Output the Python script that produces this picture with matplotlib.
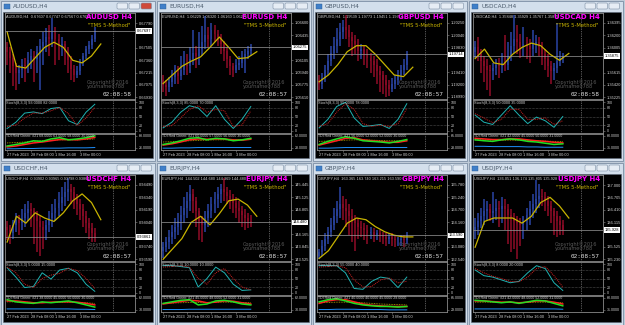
"""Eight MT4 H4 chart windows (TMS 5-Method template) tiled 4 x 2."""

import matplotlib
matplotlib.use("Agg")
import matplotlib.pyplot as plt
from matplotlib.patches import Rectangle, FancyBboxPatch
import numpy as np

W, H = 625, 325

# ---------------------------------------------------------------------------
# Data (candles / MA are read as % of the visible price window)
# ---------------------------------------------------------------------------
PAIRS = ["AUDUSD", "EURUSD", "GBPUSD", "USDCAD",
         "USDCHF", "EURJPY", "GBPJPY", "USDJPY"]
TIMERS = ["02:08:58", "02:08:57", "02:08:57", "02:08:58",
          "02:08:57", "02:08:57", "02:08:57", "02:08:57"]
DIGITS = [5, 5, 5, 5, 5, 3, 3, 3]
PRICE_WINDOW = [(0.66907, 0.67907), (1.05587, 1.06733), (1.18955, 1.20415),
                (1.35198, 1.36552), (0.93569, 0.94611), (143.480, 145.702),
                (162.465, 166.215), (135.190, 137.239)]
PRICE_TICKS = [
    [0.66930, 0.67075, 0.67215, 0.67360, 0.67505, 0.67645, 0.67790],
    [1.05610, 1.05775, 1.05940, 1.06105, 1.06270, 1.06435, 1.06600],
    [1.18990, 1.19200, 1.19410, 1.19620, 1.19830, 1.20040, 1.20250],
    [1.35225, 1.35420, 1.35615, 1.35810, 1.36005, 1.36200, 1.36395],
    [0.93590, 0.93740, 0.93890, 0.94040, 0.94190, 0.94340, 0.94490],
    [143.525, 143.845, 144.165, 144.485, 144.805, 145.125, 145.445],
    [162.540, 163.080, 163.620, 164.160, 164.700, 165.240, 165.780],
    [135.230, 135.525, 135.820, 136.115, 136.410, 136.705, 137.000],
]
DATE_LABELS = ["27 Feb 2023", "28 Feb 08:00", "1 Mar 16:00", "3 Mar 00:00"]
DATE_BARS = [0, 8, 16, 24]
VLINE_BAR = 35

# open of first bar followed by the close of every bar
AUDUSD_LEVELS = [60, 55, 48, 38, 30, 34, 40, 38, 45, 50, 47, 55, 62, 66, 72, 70,
                 78, 70, 62, 64, 55, 45, 35, 28, 33, 42, 50, 58, 63, 70, 79]
AUDUSD_HIGH = [66, 60, 52, 42, 40, 46, 48, 55, 58, 56, 62, 70, 78, 82, 86, 94,
               84, 76, 72, 68, 60, 50, 40, 38, 46, 54, 62, 68, 74, 84]
AUDUSD_LOW = [40, 30, 15, 10, 18, 25, 20, 30, 35, 20, 30, 10, 40, 55, 50, 60,
              40, 45, 50, 40, 30, 22, 20, 24, 28, 38, 46, 52, 58, 66]
AUDUSD_MA = [78, 38, 36, 48, 60, 66, 60, 45, 42, 50, 64]

EURUSD_LEVELS = [22, 16, 14, 20, 26, 30, 27, 34, 40, 38, 46, 54, 50, 58, 66, 74,
                 70, 80, 76, 72, 64, 56, 46, 38, 34, 40, 42, 48, 52, 56, 60]
EURUSD_HIGH = [28, 22, 26, 34, 40, 38, 50, 56, 52, 60, 80, 62, 78, 85, 96, 84,
               88, 86, 80, 76, 68, 60, 50, 42, 46, 50, 56, 58, 62, 64]
EURUSD_LOW = [8, 4, 8, 14, 18, 18, 22, 28, 28, 30, 40, 36, 40, 50, 58, 60,
              62, 66, 62, 52, 44, 36, 28, 26, 30, 34, 36, 30, 46, 50]
EURUSD_MA = [18, 28, 38, 44, 49, 60, 72, 60, 47, 48, 55]

GBPUSD_LEVELS = [22, 18, 24, 34, 44, 54, 62, 70, 78, 84, 80, 72, 68, 64, 56, 58,
                 52, 48, 44, 40, 32, 28, 22, 16, 12, 18, 22, 28, 34, 40, 52]
GBPUSD_HIGH = [28, 30, 40, 52, 62, 72, 82, 88, 92, 98, 86, 78, 74, 70, 64, 62,
               58, 54, 50, 46, 38, 32, 28, 22, 24, 28, 34, 40, 46, 56]
GBPUSD_LOW = [10, 12, 20, 28, 38, 46, 54, 62, 70, 70, 60, 50, 52, 44, 46, 40,
              36, 30, 26, 18, 8, 6, 2, 4, 8, 12, 16, 22, 28, 34]
GBPUSD_MA = [20, 28, 40, 55, 62, 62, 52, 40, 28, 26, 37]

USDCAD_LEVELS = [55, 60, 52, 44, 38, 34, 32, 36, 40, 38, 42, 40, 50, 62, 70, 66,
                 60, 64, 62, 58, 64, 66, 60, 52, 46, 38, 32, 36, 44, 48, 50]
USDCAD_HIGH = [68, 72, 58, 50, 46, 40, 42, 46, 48, 54, 74, 66, 78, 98, 86, 76,
               84, 72, 70, 80, 74, 72, 66, 58, 52, 44, 42, 88, 56, 54]
USDCAD_LOW = [48, 44, 30, 20, 10, 4, 22, 28, 24, 30, 32, 34, 44, 54, 52, 48,
              50, 46, 42, 50, 54, 50, 40, 34, 26, 18, 22, 30, 38, 42]
USDCAD_MA = [47, 58, 42, 40, 52, 60, 65, 62, 52, 45, 53]

USDCHF_LEVELS = [40, 36, 32, 42, 48, 44, 50, 56, 60, 58, 54, 46, 40, 36, 42, 50,
                 56, 62, 68, 74, 80, 84, 80, 72, 66, 60, 52, 44, 38, 32, 28]
USDCHF_HIGH = [46, 42, 48, 56, 54, 60, 66, 70, 68, 62, 58, 52, 46, 48, 58, 66,
               72, 80, 86, 92, 96, 90, 86, 78, 72, 66, 58, 50, 44, 38]
USDCHF_LOW = [24, 20, 26, 34, 30, 36, 40, 46, 40, 20, 10, 6, 14, 24, 34, 40,
              46, 52, 58, 64, 70, 66, 60, 54, 48, 40, 32, 26, 22, 22]
USDCHF_MA = [22, 52, 44, 56, 50, 46, 56, 70, 78, 68, 48]

EURJPY_LEVELS = [12, 16, 22, 28, 34, 40, 46, 54, 62, 70, 78, 70, 58, 46, 42, 50,
                 58, 66, 72, 78, 84, 80, 76, 72, 68, 62, 58, 54, 50, 46, 45]
EURJPY_HIGH = [22, 28, 36, 42, 50, 56, 64, 74, 80, 88, 84, 74, 62, 52, 58, 66,
               74, 80, 86, 90, 96, 86, 82, 78, 74, 70, 64, 60, 56, 54]
EURJPY_LOW = [4, 10, 14, 20, 26, 30, 36, 44, 50, 58, 56, 40, 24, 22, 34, 40,
              50, 56, 62, 68, 70, 66, 60, 56, 50, 44, 40, 36, 38, 40]
EURJPY_MA = [2, 14, 26, 45, 52, 42, 55, 70, 72, 65, 52]

GBPJPY_LEVELS = [6, 10, 18, 26, 34, 42, 52, 60, 66, 62, 58, 52, 48, 44, 40, 38,
                 36, 32, 34, 30, 32, 30, 28, 26, 28, 26, 24, 24, 26, 24, 30]
GBPJPY_HIGH = [14, 24, 32, 40, 50, 62, 70, 86, 76, 72, 66, 60, 54, 50, 46, 44,
               42, 40, 38, 36, 36, 34, 32, 32, 32, 30, 28, 30, 30, 34]
GBPJPY_LOW = [2, 6, 12, 20, 28, 36, 44, 50, 48, 40, 30, 22, 12, 26, 28, 24,
              20, 26, 22, 24, 22, 20, 18, 20, 18, 16, 18, 18, 16, 20]
GBPJPY_MA = [3, 12, 28, 44, 50, 48, 40, 34, 30, 28, 28]

USDJPY_LEVELS = [36, 40, 46, 52, 58, 60, 56, 58, 62, 60, 64, 60, 54, 50, 46, 44,
                 42, 46, 54, 60, 66, 72, 76, 74, 70, 64, 58, 52, 46, 42, 36]
USDJPY_HIGH = [50, 56, 62, 72, 70, 66, 80, 72, 70, 74, 72, 66, 60, 56, 52, 50,
               52, 62, 70, 78, 94, 90, 84, 80, 76, 70, 62, 58, 52, 48]
USDJPY_LOW = [26, 30, 38, 42, 48, 46, 44, 48, 40, 44, 36, 20, 10, 14, 2, 18,
              26, 36, 42, 50, 56, 62, 64, 58, 52, 44, 30, 28, 30, 30]
USDJPY_MA = [16, 46, 50, 50, 50, 44, 52, 68, 74, 64, 50]

# Stochastic(8,3,3): main / signal
AUDUSD_STO = [8, 30, 62, 66, 60, 78, 82, 35, 22, 65, 93]
AUDUSD_SIG = [15, 20, 45, 62, 62, 70, 82, 60, 18, 45, 82]
EURUSD_STO = [10, 30, 65, 88, 80, 50, 88, 40, 8, 40, 85]
EURUSD_SIG = [15, 18, 45, 75, 88, 65, 75, 70, 15, 20, 70]
GBPUSD_STO = [10, 40, 85, 100, 45, 15, 18, 22, 8, 40, 95]
GBPUSD_SIG = [15, 25, 65, 95, 75, 25, 15, 20, 15, 25, 78]
USDCAD_STO = [55, 30, 22, 55, 88, 55, 25, 48, 35, 12, 50]
USDCAD_SIG = [60, 45, 28, 40, 75, 75, 40, 40, 45, 22, 35]
USDCHF_STO = [88, 55, 18, 22, 70, 48, 80, 86, 70, 30, 5]
USDCHF_SIG = [90, 70, 30, 18, 50, 62, 68, 86, 78, 50, 15]
EURJPY_STO = [95, 95, 92, 88, 20, 50, 90, 70, 30, 8, 10]
EURJPY_SIG = [90, 92, 95, 90, 50, 30, 70, 85, 50, 20, 10]
GBPJPY_STO = [95, 95, 95, 70, 15, 12, 40, 55, 50, 18, 55]
GBPJPY_SIG = [90, 92, 95, 88, 45, 20, 22, 45, 52, 35, 40]
USDJPY_STO = [80, 60, 55, 45, 35, 40, 70, 95, 85, 35, 8]
USDJPY_SIG = [85, 70, 58, 50, 40, 38, 55, 85, 92, 60, 20]

# TDI: green (RSI), red (signal), yellow (base), blue (lower band)
AUDUSD_TDI_G = [35, 40, 45, 52, 50, 58, 62, 55, 58, 62, 68]
AUDUSD_TDI_R = [32, 35, 40, 45, 48, 52, 56, 56, 55, 58, 63]
AUDUSD_TDI_Y = [45, 46, 48, 50, 52, 54, 55, 55, 55, 56, 58]
AUDUSD_TDI_B = [26, 26, 27, 27, 28, 28, 28, 29, 29, 29, 30]
EURUSD_TDI_G = [40, 45, 52, 60, 62, 55, 60, 58, 52, 55, 60]
EURUSD_TDI_R = [38, 42, 48, 55, 58, 57, 58, 58, 55, 54, 57]
EURUSD_TDI_Y = [48, 49, 50, 52, 53, 54, 55, 55, 55, 55, 56]
EURUSD_TDI_B = [28, 28, 29, 29, 30, 30, 30, 30, 30, 30, 30]
GBPUSD_TDI_G = [40, 50, 58, 65, 60, 52, 50, 48, 45, 50, 56]
GBPUSD_TDI_R = [38, 45, 52, 60, 62, 55, 52, 50, 47, 47, 52]
GBPUSD_TDI_Y = [50, 51, 52, 54, 55, 55, 54, 53, 52, 52, 52]
GBPUSD_TDI_B = [28, 28, 29, 30, 30, 30, 30, 30, 30, 30, 30]
USDCAD_TDI_G = [55, 52, 50, 55, 58, 55, 50, 48, 44, 40, 42]
USDCAD_TDI_R = [60, 58, 56, 56, 58, 58, 55, 52, 50, 47, 45]
USDCAD_TDI_Y = [55, 55, 54, 54, 54, 54, 53, 52, 51, 50, 50]
USDCAD_TDI_B = [34, 34, 33, 33, 33, 33, 32, 32, 31, 31, 31]
USDCHF_TDI_G = [62, 55, 52, 50, 55, 52, 55, 58, 52, 45, 38]
USDCHF_TDI_R = [58, 58, 55, 52, 52, 54, 55, 55, 54, 50, 45]
USDCHF_TDI_Y = [55, 55, 54, 53, 53, 53, 54, 54, 53, 52, 50]
USDCHF_TDI_B = [32, 32, 32, 32, 32, 32, 32, 32, 31, 31, 30]
EURJPY_TDI_G = [50, 55, 60, 62, 45, 48, 58, 60, 55, 48, 45]
EURJPY_TDI_R = [48, 52, 56, 60, 58, 52, 54, 58, 57, 52, 48]
EURJPY_TDI_Y = [50, 51, 52, 53, 53, 53, 54, 54, 54, 53, 52]
EURJPY_TDI_B = [30, 30, 30, 31, 31, 31, 31, 31, 31, 31, 31]
GBPJPY_TDI_G = [55, 62, 65, 58, 50, 45, 42, 40, 40, 38, 40]
GBPJPY_TDI_R = [50, 58, 62, 62, 55, 48, 44, 42, 40, 40, 40]
GBPJPY_TDI_Y = [52, 53, 54, 54, 53, 52, 50, 48, 47, 46, 45]
GBPJPY_TDI_B = [30, 30, 31, 31, 31, 30, 30, 30, 29, 29, 29]
USDJPY_TDI_G = [60, 58, 55, 52, 55, 50, 55, 60, 58, 50, 42]
USDJPY_TDI_R = [58, 58, 56, 54, 54, 52, 54, 58, 58, 54, 48]
USDJPY_TDI_Y = [54, 54, 54, 53, 53, 53, 53, 54, 54, 53, 52]
USDJPY_TDI_B = [32, 32, 32, 32, 32, 32, 32, 32, 32, 32, 31]

CANDLES = {
    "AUDUSD": (AUDUSD_LEVELS, AUDUSD_HIGH, AUDUSD_LOW, AUDUSD_MA),
    "EURUSD": (EURUSD_LEVELS, EURUSD_HIGH, EURUSD_LOW, EURUSD_MA),
    "GBPUSD": (GBPUSD_LEVELS, GBPUSD_HIGH, GBPUSD_LOW, GBPUSD_MA),
    "USDCAD": (USDCAD_LEVELS, USDCAD_HIGH, USDCAD_LOW, USDCAD_MA),
    "USDCHF": (USDCHF_LEVELS, USDCHF_HIGH, USDCHF_LOW, USDCHF_MA),
    "EURJPY": (EURJPY_LEVELS, EURJPY_HIGH, EURJPY_LOW, EURJPY_MA),
    "GBPJPY": (GBPJPY_LEVELS, GBPJPY_HIGH, GBPJPY_LOW, GBPJPY_MA),
    "USDJPY": (USDJPY_LEVELS, USDJPY_HIGH, USDJPY_LOW, USDJPY_MA),
}
STOCH = {
    "AUDUSD": (AUDUSD_STO, AUDUSD_SIG), "EURUSD": (EURUSD_STO, EURUSD_SIG),
    "GBPUSD": (GBPUSD_STO, GBPUSD_SIG), "USDCAD": (USDCAD_STO, USDCAD_SIG),
    "USDCHF": (USDCHF_STO, USDCHF_SIG), "EURJPY": (EURJPY_STO, EURJPY_SIG),
    "GBPJPY": (GBPJPY_STO, GBPJPY_SIG), "USDJPY": (USDJPY_STO, USDJPY_SIG),
}
TDI = {
    "AUDUSD": (AUDUSD_TDI_G, AUDUSD_TDI_R, AUDUSD_TDI_Y, AUDUSD_TDI_B),
    "EURUSD": (EURUSD_TDI_G, EURUSD_TDI_R, EURUSD_TDI_Y, EURUSD_TDI_B),
    "GBPUSD": (GBPUSD_TDI_G, GBPUSD_TDI_R, GBPUSD_TDI_Y, GBPUSD_TDI_B),
    "USDCAD": (USDCAD_TDI_G, USDCAD_TDI_R, USDCAD_TDI_Y, USDCAD_TDI_B),
    "USDCHF": (USDCHF_TDI_G, USDCHF_TDI_R, USDCHF_TDI_Y, USDCHF_TDI_B),
    "EURJPY": (EURJPY_TDI_G, EURJPY_TDI_R, EURJPY_TDI_Y, EURJPY_TDI_B),
    "GBPJPY": (GBPJPY_TDI_G, GBPJPY_TDI_R, GBPJPY_TDI_Y, GBPJPY_TDI_B),
    "USDJPY": (USDJPY_TDI_G, USDJPY_TDI_R, USDJPY_TDI_Y, USDJPY_TDI_B),
}

# ---------------------------------------------------------------------------
# Layout / style
# ---------------------------------------------------------------------------
WIN_LEFT = [0, 156, 312, 468]
WIN_TOP = [0, 162]
WIN_HEIGHT = [161, 163]
WIN_W = 155
XLIM = (-0.7, 42.3)

BULL, BULL_DARK = "#4a6ff0", "#243a8c"
BEAR, BEAR_DARK = "#e0143c", "#7a0a22"
MA_COLOR = "#c8b400"
SPINE = "#8a8a8a"
LABEL = "#d2d2d2"
NARROW = "Liberation Sans"


def px_axes(fig, x, y, w, h):
    return fig.add_axes([x / W, 1 - (y + h) / H, w / W, h / H])


def style(ax, labelsize=2.9):
    ax.set_facecolor("black")
    for s in ax.spines.values():
        s.set_color(SPINE)
        s.set_linewidth(0.6)
    ax.yaxis.tick_right()
    ax.tick_params(axis="y", labelsize=labelsize, colors=SPINE, labelcolor=LABEL,
                   length=1.5, width=0.4, pad=1)
    ax.tick_params(axis="x", bottom=False, labelbottom=False)
    for t in ax.get_yticklabels():
        t.set_family(NARROW)
    ax.set_xlim(*XLIM)
    ax.axvline(VLINE_BAR, color="#a8a8a8", lw=0.5, ls=(0, (1, 1.5)))


def draw_window(fig, bg, idx, pair):
    col, row = idx % 4, idx // 4
    x0, y0, wh = WIN_LEFT[col], WIN_TOP[row], WIN_HEIGHT[row]
    digits = DIGITS[idx]
    lo, hi = PRICE_WINDOW[idx]

    def price(v):
        return lo + np.asarray(v, dtype=float) / 100.0 * (hi - lo)

    # window frame, title bar, buttons
    bg.add_patch(Rectangle((x0 + 0.5, y0 + 0.5), WIN_W - 1, wh - 1,
                           fc="#d3dfec", ec="#7c8ea4", lw=0.6))
    bg.add_patch(Rectangle((x0 + 4, y0 + 3.5), 6, 5, fc="#3f7fc9", ec="#2a5a90", lw=0.3))
    bg.text(x0 + 13, y0 + 6.5, f"{pair},H4", fontsize=4.2, va="center", color="#4a5a6c")
    for k, bx in enumerate([117, 129, 141]):
        fc = "#cf4a3a" if (k == 2 and idx == 0) else "#e6edf5"
        bg.add_patch(FancyBboxPatch((x0 + bx, y0 + 3), 10.5, 6,
                                    boxstyle="round,pad=0,rounding_size=1.2",
                                    fc=fc, ec="#7c8ea4", lw=0.4))
    bg.add_patch(Rectangle((x0 + 3, y0 + 12), 150, wh - 15, fc="black", ec="#5a6675", lw=0.4))

    levels, highs, lows, ma = CANDLES[pair]
    n = len(highs)
    bars = np.arange(n)
    opens = price(levels[:-1])
    closes = price(levels[1:])
    hs, ls = price(highs), price(lows)

    # --- price panel
    ax = px_axes(fig, x0 + 5, y0 + 13, 130, 86)
    bull = closes >= opens
    ax.vlines(bars[bull], ls[bull], hs[bull], color=BULL_DARK, lw=1.3)
    ax.vlines(bars[~bull], ls[~bull], hs[~bull], color=BEAR_DARK, lw=1.3)
    ax.bar(bars[bull], (closes - opens)[bull], bottom=opens[bull], width=0.65,
           color=BULL, lw=0)
    ax.bar(bars[~bull], (closes - opens)[~bull], bottom=opens[~bull], width=0.65,
           color=BEAR, lw=0)
    ax.plot(np.linspace(0, n + 1, len(ma)), price(ma), color=MA_COLOR, lw=0.9)
    ax.set_ylim(lo, hi)
    last = closes[-1]
    step = PRICE_TICKS[idx][1] - PRICE_TICKS[idx][0]
    # MT4 hides the scale label that sits under the current-price box
    ticks = [t for t in PRICE_TICKS[idx] if abs(t - last) > 0.55 * step]
    ax.set_yticks(ticks)
    ax.set_yticklabels([f"{t:.{digits}f}" for t in ticks])
    style(ax)
    ax.axhline(last, color="#9a9a9a", lw=0.5)
    ax.annotate(f"{last:.{digits}f}", xy=(1.0, last), xycoords=ax.get_yaxis_transform(),
                xytext=(1.2, 0), textcoords="offset points", fontsize=2.9, va="center",
                ha="left", color="black", family=NARROW,
                bbox=dict(boxstyle="square,pad=0.15", fc="white", ec="white", lw=0))
    ax.text(0.01, 0.985, f"{pair},H4  {opens[-1]:.{digits}f} {hs[-1]:.{digits}f} "
            f"{ls[-1]:.{digits}f} {last:.{digits}f}",
            transform=ax.transAxes, fontsize=2.8, color=LABEL, va="top", family=NARROW)
    ax.text(0.975, 0.955, f"{pair} H4", transform=ax.transAxes, fontsize=5,
            color="#ff00ff", fontweight="bold", ha="right", va="center")
    ax.text(0.965, 0.86, '"TMS 5-Method"', transform=ax.transAxes, fontsize=3.8,
            color=MA_COLOR, ha="right", va="center")
    ax.text(0.63, 0.17, "Copyright\u00a92016\nyourname0788", transform=ax.transAxes,
            fontsize=3.6, color="#5a5a5a", ha="left", va="center", linespacing=0.9)
    ax.text(0.975, 0.055, TIMERS[idx], transform=ax.transAxes, fontsize=4.3,
            color="#e0e0e0", ha="right", va="center", family="DejaVu Sans Mono")

    # --- stochastic
    main, sig = STOCH[pair]
    sx = np.linspace(0, n - 1, len(main))
    ax2 = px_axes(fig, x0 + 5, y0 + 100, 130, 33)
    for lvl in (20, 50, 80):
        ax2.axhline(lvl, color="#8a8a8a", lw=0.4, ls=(0, (1, 1.5)))
    ax2.plot(sx, main, color="#1fb3b3", lw=0.7)
    ax2.plot(sx, sig, color="#d02020", lw=0.7, ls=(0, (1, 1)))
    ax2.set_ylim(-8, 108)
    ax2.set_yticks([0, 20, 50, 80, 100])
    style(ax2, labelsize=2.6)
    ax2.text(0.01, 0.97, f"Stoch(8,3,3) {main[-1]:.4f} {sig[-1]:.4f}",
             transform=ax2.transAxes, fontsize=2.8, color=LABEL, va="top", family=NARROW)

    # --- TDI
    g, r, y, b = TDI[pair]
    ax3 = px_axes(fig, x0 + 5, y0 + 134, 130, 16)
    ax3.plot(sx, b, color="#1e90ff", lw=0.7)
    ax3.plot(sx, y, color="#c8b400", lw=0.6, ls=(0, (1, 1)))
    ax3.plot(sx, r, color="#ff2020", lw=1.1)
    ax3.plot(sx, g, color="#22e022", lw=1.1)
    ax3.set_ylim(22, 74)
    ax3.set_yticks([29, 68])
    ax3.set_yticklabels([f"{min(b):.4f}", f"{max(max(g), max(r)):.4f}"])
    style(ax3, labelsize=2.6)
    ax3.text(0.01, 0.97, f"TDI Red Green: #21 {g[-1]:.4f} {r[-1]:.4f} {y[-1]:.4f} {b[-1]:.4f}",
             transform=ax3.transAxes, fontsize=2.6, color=LABEL, va="top", family=NARROW)
    ax3.set_xticks(DATE_BARS)
    ax3.set_xticklabels(DATE_LABELS)
    ax3.tick_params(axis="x", bottom=True, labelbottom=True, labelsize=2.8,
                    colors=SPINE, labelcolor=LABEL, length=1.5, width=0.4, pad=1)
    for t in ax3.get_xticklabels():
        t.set_ha("left")
        t.set_family(NARROW)


def main() -> None:
    fig = plt.figure(figsize=(W / 100, H / 100), dpi=100, facecolor="#bfcbd8")
    bg = fig.add_axes([0, 0, 1, 1])
    bg.set_xlim(0, W)
    bg.set_ylim(H, 0)
    bg.axis("off")
    for idx, pair in enumerate(PAIRS):
        draw_window(fig, bg, idx, pair)
    fig.savefig("out.png", dpi=100, facecolor=fig.get_facecolor())
    plt.close(fig)


if __name__ == "__main__":
    main()
